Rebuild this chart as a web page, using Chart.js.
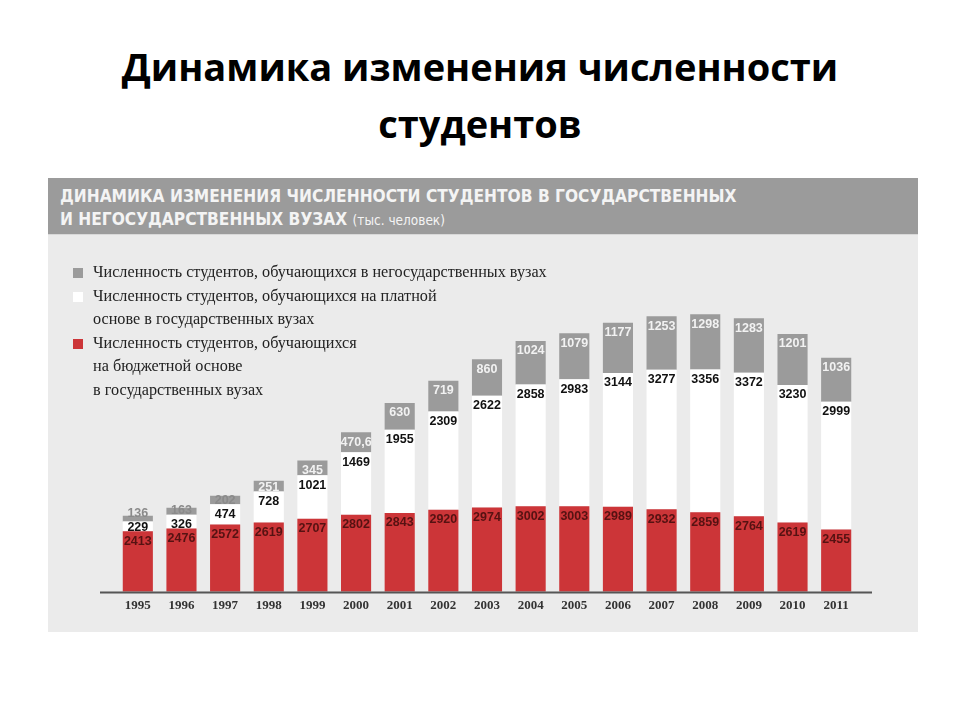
<!DOCTYPE html>
<html>
<head>
<meta charset="utf-8">
<script src="https://cdn.jsdelivr.net/npm/chart.js@4"></script>
<style>
  body { margin: 0; background: #fff; width: 960px; height: 720px; position: relative; overflow: hidden; }
  #title { position: absolute; left: 0; top: 38px; width: 960px; text-align: center;
    font: bold 38px "Open Sans", sans-serif; line-height: 57px; color: #000; }
  #panel { position: absolute; left: 48px; top: 178px; width: 870px; height: 454px; background: #ebebeb; }
  #head { position: absolute; left: 0; top: 0; width: 870px; height: 57px; background: #9b9b9b;
    border-bottom: 1px solid #d8d8d8; color: #f4f4f4; font-family: "DejaVu Sans", sans-serif; font-weight: bold;
    font-stretch: condensed; font-size: 17.2px; line-height: 23px; padding: 7px 0 0 12px; box-sizing: border-box; }
  #head small { font-weight: normal; font-size: 13.5px; }
  #chartBox { position: absolute; left: 0; top: 58px; width: 870px; height: 396px; }
  #legend { position: absolute; left: 25px; top: 83px; font: 16.2px "Liberation Serif", serif; color: #222; line-height: 23.6px; }
  .item { position: relative; padding-left: 20px; }
  .sq { position: absolute; left: 0; top: 7px; width: 10px; height: 10px; }
</style>
</head>
<body>
<div id="title">Динамика изменения численности<br>студентов</div>
<div id="panel">
  <div id="head">ДИНАМИКА ИЗМЕНЕНИЯ ЧИСЛЕННОСТИ СТУДЕНТОВ В ГОСУДАРСТВЕННЫХ<br>И НЕГОСУДАРСТВЕННЫХ ВУЗАХ <small>(тыс. человек)</small></div>
  <div id="chartBox"><canvas id="chart"></canvas></div>
  <div id="legend"></div>
</div>
<script>
const years = ['1995', '1996', '1997', '1998', '1999', '2000', '2001', '2002', '2003',
  '2004', '2005', '2006', '2007', '2008', '2009', '2010', '2011'];
// бюджетная основа, гос. вузы
const budget = [2413, 2476, 2572, 2619, 2707, 2802, 2843, 2920, 2974, 3002, 3003, 2989, 2932, 2859, 2764, 2619, 2455];
// платная основа, гос. вузы
const paid = [229, 326, 474, 728, 1021, 1469, 1955, 2309, 2622, 2858, 2983, 3144, 3277, 3356, 3372, 3230, 2999];
// негосударственные вузы
const nonState = [136, 163, 202, 251, 345, 470.6, 630, 719, 860, 1024, 1079, 1177, 1253, 1298, 1283, 1201, 1036];

const labelBudget = ['Численность студентов, обучающихся', 'на бюджетной основе', 'в государственных вузах'];
const labelPaid = ['Численность студентов, обучающихся на платной', 'основе в государственных вузах'];
const labelNonState = ['Численность студентов, обучающихся в негосударственных вузах'];

const colors = { budget: '#cc3538', paid: '#ffffff', nonState: '#9b9b9b' };

// легенда
const legend = document.getElementById('legend');
[[labelNonState, colors.nonState], [labelPaid, colors.paid], [labelBudget, colors.budget]].forEach(([lines, c]) => {
  const div = document.createElement('div');
  div.className = 'item';
  div.innerHTML = `<span class="sq" style="background:${c}"></span>` + lines.join('<br>');
  legend.appendChild(div);
});

const fmt = v => String(v).replace('.', ',');

// подписи значений на сегментах
const valueLabels = {
  id: 'valueLabels',
  afterDatasetsDraw(chart) {
    const ctx = chart.ctx;
    const m0 = chart.getDatasetMeta(0), m1 = chart.getDatasetMeta(1), m2 = chart.getDatasetMeta(2);
    ctx.save();
    ctx.font = 'bold 12.5px "Liberation Sans", Arial, sans-serif';
    ctx.textAlign = 'center';
    ctx.textBaseline = 'middle';
    years.forEach((y, i) => {
      const r = m0.data[i], w = m1.data[i], g = m2.data[i];
      const yR = r.y + 10;
      const yW = Math.min(w.y + 10, yR - 14);
      const yG = Math.min(g.y + 10, yW - 14);
      ctx.fillStyle = '#561212';
      ctx.fillText(fmt(budget[i]), r.x, yR);
      ctx.fillStyle = '#111';
      ctx.fillText(fmt(paid[i]), w.x, yW);
      ctx.fillStyle = yG - 6 >= g.y ? '#f2f2f2' : '#8a8a8a';
      ctx.fillText(fmt(nonState[i]), g.x, yG);
    });
    // базовая линия
    const a = chart.chartArea;
    ctx.strokeStyle = '#555';
    ctx.lineWidth = 2;
    ctx.beginPath();
    ctx.moveTo(a.left - 16, a.bottom + 1);
    ctx.lineTo(a.right + 14, a.bottom + 1);
    ctx.stroke();
    ctx.restore();
  }
};

new Chart(document.getElementById('chart'), {
  type: 'bar',
  data: {
    labels: years,
    datasets: [
      { label: labelBudget.join(' '), data: budget, backgroundColor: colors.budget },
      { label: labelPaid.join(' '), data: paid, backgroundColor: colors.paid },
      { label: labelNonState.join(' '), data: nonState, backgroundColor: colors.nonState }
    ]
  },
  options: {
    responsive: true,
    maintainAspectRatio: false,
    animation: false,
    datasets: { bar: { categoryPercentage: 1, barPercentage: 0.69 } },
    layout: { padding: { left: 68, right: 60, top: 0, bottom: 13 } },
    plugins: { legend: { display: false }, tooltip: { enabled: false } },
    scales: {
      x: {
        stacked: true,
        grid: { display: false, drawTicks: false },
        border: { display: false },
        ticks: { color: '#333', padding: 6, font: { family: '"Liberation Serif", serif', size: 13, weight: 'bold' } }
      },
      y: { stacked: true, display: false, min: 1000, max: 9350 }
    }
  },
  plugins: [valueLabels]
});
</script>
</body>
</html>
